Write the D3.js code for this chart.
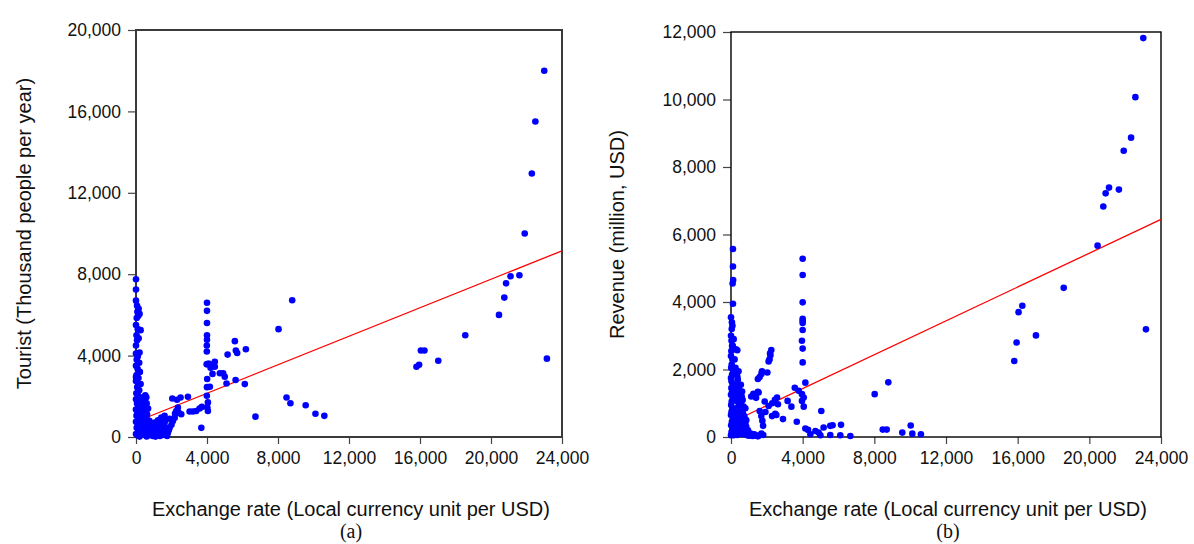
<!DOCTYPE html>
<html>
<head>
<meta charset="utf-8">
<script src="https://cdn.jsdelivr.net/npm/d3@7/dist/d3.min.js"></script>
<style>
  html, body { margin: 0; padding: 0; background: #fff; }
  svg { display: block; }
  .tick text { font-family: "Liberation Sans", Arial, sans-serif; fill: #111; }
  .title { font-family: "Liberation Sans", Arial, sans-serif; fill: #111; }
  .caption { font-family: "Liberation Serif", "Times New Roman", serif; fill: #111; }
</style>
</head>
<body>
<script>
// Exchange rate (local currency per USD) vs. tourist arrivals (thousand people per year)
const tourPoints = [
  // rates close to zero
  [0,7750],[0,7250],[60,6450],[150,6300],[80,6150],[200,6050],[120,5950],[40,5850],[260,5250],[100,5300],
  [30,5000],[150,4850],[60,4750],[200,4150],[0,4100],[100,3950],[40,3800],[180,3650],[0,3500],[90,3350],
  [220,3200],[30,3050],[140,2900],[0,2750],[260,2600],[70,2450],[180,2300],[20,2150],[110,2050],[240,1950],
  [0,1850],[160,1750],[60,1650],[260,1550],[120,1450],[0,1350],[200,1250],[80,1150],[30,1050],[150,950],
  [250,850],[0,750],[100,650],[200,550],[40,450],[150,350],[260,250],[0,150],[90,80],[200,20],
  [300,300],[320,700],[300,1100],[0,2950],[0,4500],[0,5500],[0,6700],
  [350,500],[400,150],[350,1300],[380,1900],[300,1600],
  // 400 - 700
  [520,2050],[580,1950],[500,1800],[600,1650],[540,1500],[470,1350],[580,1250],[620,1100],[450,1000],[520,850],
  [650,750],[400,650],[700,550],[550,450],[450,300],[650,200],[750,100],[600,30],[420,1550],[680,1400],
  [500,600],[700,300],[600,900],
  // 800 - 2600
  [825,630],[1050,710],[1240,820],[1425,950],[1610,1040],[1520,540],[1330,380],[1140,130],[1610,130],[1800,210],
  [1895,460],[2080,790],[2180,950],[2270,1280],[2360,1450],[2400,1200],[2550,1120],[900,300],[1000,450],[1200,250],
  [950,50],[1350,50],[1500,250],[1700,400],[800,150],[1100,20],[1750,50],[2000,600],[1900,900],[2200,1150],
  [1300,600],[1650,800],[850,450],[1000,250],[1150,400],[1250,150],[1450,100],[1550,350],[1700,200],[1850,350],
  [750,800],[900,650],[1050,550],[1400,750],[1600,650],
  [2045,1890],[2310,1830],[2510,1940],[2925,1980],[3020,1250],[3210,1250],[3390,1280],[3580,1400],[3710,1480],[3680,450],
  // around 4,000
  [4000,6600],[4000,6200],[4000,5600],[4000,5000],[4000,4780],[3990,4500],[3990,4200],[3980,3570],[4050,3600],[4010,2850],
  [4160,2470],[4000,2450],[3990,2030],[4050,1700],[4020,1450],[4050,1280],
  [4120,3600],[4300,3500],[4440,3700],[4200,3400],[4440,3450],[4310,3100],[4725,3130],[4910,3130],[5000,2960],[5100,2630],
  [5610,2800],[6130,2600],[5160,4050],[5570,4710],[5625,4250],[5700,4130],[6190,4310],
  // 6,000 - 11,000
  [6730,1000],[8030,5300],[8800,6720],[8480,1940],[8700,1660],[9560,1560],[10110,1140],[10610,1040],
  // high rates
  [15800,3450],[15950,3550],[16050,4250],[16250,4250],[17030,3750],[18550,5000],[20450,6000],[20750,6850],[20850,7550],[21100,7900],
  [21600,7950],[21900,10000],[22300,12950],[22500,15500],[23000,18000],[23150,3850]
];

// Exchange rate vs. tourism revenue (million USD)
const revPoints = [
  [110,5570],[110,5050],[120,4650],[90,4550],[110,3950],[0,3550],[80,3300],[40,3200],[0,3000],[30,2850],
  [60,2700],[20,2550],[0,2400],[80,2300],[40,2150],[10,2050],[100,2000],[60,1850],[0,1750],[30,1650],
  [90,1550],[20,1450],[60,1350],[0,1250],[100,1150],[40,1050],[10,950],[80,850],[30,750],[0,650],
  [100,550],[50,450],[10,350],[80,250],[30,150],[0,50],[120,100],[150,1900],[150,1200],[150,700],[150,300],
  [100,2700],[150,2900],[50,3400],[200,2300],[300,1900],[350,1800],
  [280,2600],[350,2570],[420,1950],[380,1700],[300,1550],[450,1400],[500,1300],[400,1200],[350,1050],[450,950],
  [300,850],[500,750],[400,650],[280,550],[480,450],[380,350],[300,250],[450,150],[350,60],[250,2050],
  [250,1350],[250,400],[200,1500],[300,1150],[350,800],[200,600],[450,300],[400,100],[250,150],[150,50],
  [500,1000],[400,1500],[500,200],
  [550,1550],[620,1350],[600,1200],[580,1050],[700,900],[650,750],[750,600],[600,500],[800,400],[700,250],
  [850,150],[650,80],[900,50],[1000,40],[1200,30],[1400,40],[1600,50],[1700,100],[550,300],[750,200],
  [550,900],[650,1100],[700,650],[800,850],[850,500],[600,150],[650,400],[750,350],[550,650],[850,300],
  [950,200],[1100,100],[1300,80],[1500,20],[1800,60],
  [1130,1200],[1250,1280],[1350,1230],[1500,1340],[1400,1160],[1540,1320],[1500,1720],[1600,1780],[1700,1870],[1730,1950],
  [2030,1910],[2100,2240],[2150,2300],[2200,2420],[2250,2580],[2180,2480],[1600,770],[1920,740],[1690,620],[1750,480],
  [1790,330],[2100,920],[2300,1000],[2450,1100],[2570,1170],[2290,620],[2530,650],[2900,530],[3160,1070],[3370,900],
  [1880,1050],[2470,690],[2620,970],
  [4000,5280],[4000,4800],[4000,3990],[4000,3500],[4000,3440],[4000,3380],[4000,3170],[3960,2850],[4000,2620],[4000,2210],
  [4150,1610],[3560,1460],[3780,1370],[3960,1270],[4060,1170],[3960,1070],[4060,900],[3670,450],[5040,770],
  [4150,250],[4300,210],[4430,80],[4710,180],[4890,130],[4990,50],[5170,280],[5540,330],[5670,350],[5540,60],
  [6140,360],[6100,50],[6660,30],
  [8020,1270],[8780,1620],[8470,220],[8690,220],[9560,130],[10030,340],[10120,100],[10600,80],
  [15810,2250],[15940,2800],[16050,3700],[16260,3890],[17020,3010],[18570,4420],[20460,5670],[20780,6830],[20910,7220],[21100,7390],
  [21650,7330],[21920,8480],[22330,8870],[22570,10070],[23010,11820],[23160,3190]
];

// Fitted OLS lines: [intercept, slope]
const tourFit = [750, 0.35];
const revFit = [430, 0.2508];

const xTicks = [0, 4000, 8000, 12000, 16000, 20000, 24000];
const tourTicks = [0, 4000, 8000, 12000, 16000, 20000];
const revTicks = [0, 2000, 4000, 6000, 8000, 10000, 12000];

const xTitle = "Exchange rate (Local currency unit per USD)";
const tourTitle = "Tourist (Thousand people per year)";
const revTitle = "Revenue (million, USD)";

const svg = d3.select("body").append("svg")
  .attr("width", 1194).attr("height", 544);

function panel(opts) {
  const { left, right, top, bottom, yMax, yTicks, points, fit, yTitle, yTitleX, caption, frame } = opts;
  const x = d3.scaleLinear().domain([0, 24000]).range([left, right]);
  const y = d3.scaleLinear().domain([0, yMax]).range([bottom, top]);
  const g = svg.append("g");
  const fmt = d3.format(",");

  // axes
  const ya = g.append("g").attr("transform", `translate(${left},0)`)
    .call(d3.axisLeft(y).tickValues(yTicks).tickFormat(fmt).tickSize(8).tickSizeOuter(0).tickPadding(7));
  const xa = g.append("g").attr("transform", `translate(0,${bottom})`)
    .call(d3.axisBottom(x).tickValues(xTicks).tickFormat(fmt).tickSize(7).tickSizeOuter(0).tickPadding(8));
  [ya, xa].forEach(a => {
    a.select(".domain").remove();
    a.selectAll(".tick line").attr("stroke", "#444").attr("stroke-width", 1.2);
    a.selectAll(".tick text").style("font-size", "17.5px");
  });

  // plot frame
  g.append("rect")
    .attr("x", left).attr("y", top)
    .attr("width", right - left).attr("height", bottom - top)
    .attr("fill", "none").attr("stroke", frame.color).attr("stroke-width", frame.width);

  // regression line
  g.append("line")
    .attr("x1", x(0)).attr("y1", y(fit[0]))
    .attr("x2", x(24000)).attr("y2", y(fit[0] + fit[1] * 24000))
    .attr("stroke", "#ff0000").attr("stroke-width", 1.3);

  // observations
  g.append("g").selectAll("circle").data(points).join("circle")
    .attr("cx", d => x(d[0])).attr("cy", d => y(d[1])).attr("r", 3.3)
    .attr("fill", "#0000ff");

  // titles
  g.append("text").attr("class", "title")
    .attr("transform", `translate(${yTitleX},${(top + bottom) / 2}) rotate(-90)`)
    .attr("text-anchor", "middle").style("font-size", "20px").text(yTitle);
  g.append("text").attr("class", "title")
    .attr("x", (left + right) / 2 + 2).attr("y", 516)
    .attr("text-anchor", "middle").style("font-size", "20px").text(xTitle);
  g.append("text").attr("class", "caption")
    .attr("x", (left + right) / 2 + 2).attr("y", 538)
    .attr("text-anchor", "middle").style("font-size", "20px").text(caption);
}

panel({ left: 136, right: 562, top: 30, bottom: 437, yMax: 20000, yTicks: tourTicks,
        points: tourPoints, fit: tourFit, yTitle: tourTitle, yTitleX: 31, caption: "(a)",
        frame: { color: "#3a3a3a", width: 2 } });
panel({ left: 731, right: 1161, top: 32, bottom: 437, yMax: 12000, yTicks: revTicks,
        points: revPoints, fit: revFit, yTitle: revTitle, yTitleX: 624, caption: "(b)",
        frame: { color: "#000", width: 1.4 } });
</script>
</body>
</html>
